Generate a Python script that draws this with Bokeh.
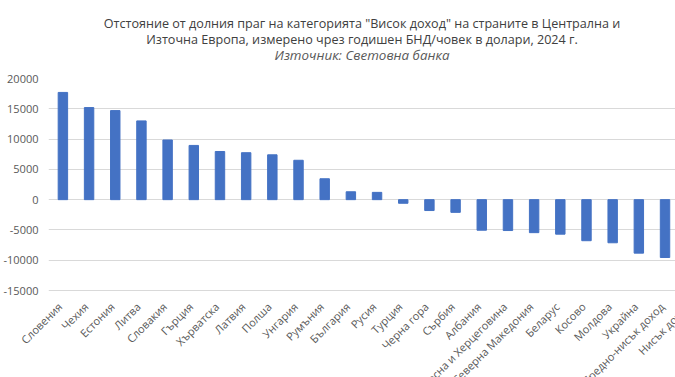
import math
from bokeh.plotting import figure
from bokeh.layouts import column, row
from bokeh.models import Range1d, FixedTicker, NumeralTickFormatter, ColumnDataSource
from bokeh.core.properties import value
from bokeh.embed import file_html
from bokeh.resources import INLINE

categories = ["Словения", "Чехия", "Естония", "Литва", "Словакия", "Гърция", "Хърватска",
              "Латвия", "Полша", "Унгария", "Румъния", "България", "Русия", "Турция",
              "Черна гора", "Сърбия", "Албания", "Босна и Херцеговина", "Северна Македония",
              "Беларус", "Косово", "Молдова", "Украйна", "Средно-нисък доход", "Нисък доход"]
# the last category's bar lies outside the visible area of the reference
values = [17700, 15200, 14700, 13000, 9850, 8950, 7950, 7750, 7400, 6500, 3450, 1300,
          1200, -600, -1800, -2100, -5050, -5100, -5450, -5700, -6780, -7120, -8830, -9550]
y_ticks = [-15000, -10000, -5000, 0, 5000, 10000, 15000, 20000]
title_lines = ['Отстояние от долния праг на категорията "Висок доход" на страните в Централна и',
               'Източна Европа, измерено чрез годишен БНД/човек в долари, 2024 г.']
subtitle = "Източник: Световна банка"

FONT = "Open Sans"
BAR = "#4472C4"
GRID = "#D9D9D9"
TXT = "#595959"
TITLE = "#404040"

# layout (pixels)
W = 675
TOP_H, FRAME_H, PAD_T, PAD_B, BOT_H = 70, 213, 8, 7, 79
LEFT = 48
FRAME_W = W - LEFT
X_START, X_END = -0.55, 23.4
PPU = FRAME_W / (X_END - X_START)          # pixels per category
Y_PAD = (y_ticks[-1] - y_ticks[0]) / (FRAME_H - 1)  # one pixel, so the bottom gridline shows


def strip(height, x_range, y_range):
    f = figure(width=W, height=height, output_backend="svg", toolbar_location=None,
               x_range=x_range, y_range=y_range, x_axis_type=None, y_axis_type=None,
               min_border=0, min_border_left=0, min_border_right=0,
               min_border_top=0, min_border_bottom=0)
    f.grid.visible = False
    f.outline_line_color = None
    return f


# ---- title strip ----
t = strip(TOP_H, Range1d(0, W), Range1d(TOP_H, 0))
cx = LEFT + FRAME_W / 2
t.text(x=[cx, cx], y=[23, 38.5], text=title_lines, text_align="center", text_baseline="middle",
       text_font=value(FONT), text_font_size="12.6px", text_color=TITLE)
t.text(x=[cx], y=[54], text=[subtitle], text_align="center", text_baseline="middle",
       text_font=value(FONT), text_font_style="italic", text_font_size="13.4px", text_color=TXT)

# ---- main chart ----
p = figure(width=W, height=FRAME_H + PAD_T + PAD_B, output_backend="svg", toolbar_location=None,
           x_range=Range1d(X_START, X_END),
           y_range=Range1d(y_ticks[0] - Y_PAD, y_ticks[-1]),
           min_border_left=LEFT, min_border_right=0, min_border_top=PAD_T, min_border_bottom=PAD_B)
p.vbar(x=list(range(len(values))), top=values, bottom=0, width=0.36, color=BAR)

p.xaxis.visible = False
p.xgrid.visible = False
p.ygrid.grid_line_color = GRID
p.ygrid.grid_line_width = 1
p.ygrid.ticker = FixedTicker(ticks=y_ticks)

yax = p.yaxis[0]
yax.ticker = FixedTicker(ticks=y_ticks)
yax.formatter = NumeralTickFormatter(format="0")
yax.axis_line_color = None
yax.major_tick_line_color = None
yax.minor_tick_line_color = None
yax.major_tick_out = 0
yax.major_tick_in = 0
yax.minor_tick_out = 0
yax.minor_tick_in = 0
yax.major_label_text_font = FONT
yax.major_label_text_font_size = "11px"
yax.major_label_text_color = TXT
yax.major_label_standoff = 10
p.outline_line_color = None

# ---- category label strip (same category scale as the chart) ----
b = strip(BOT_H, Range1d(X_START - LEFT / PPU, X_END), Range1d(BOT_H, 0))
labels = ColumnDataSource(dict(x=list(range(len(categories))),
                               y=[6] * len(categories), text=categories))
b.text(x="x", y="y", text="text", source=labels, angle=math.pi / 4,
       text_align="right", text_baseline="middle", x_offset=-3,
       text_font=value(FONT), text_font_size="11px", text_color=TXT)

layout = column(row(t), row(p), row(b), spacing=0)
open("out.html", "w").write(file_html(layout, INLINE))
